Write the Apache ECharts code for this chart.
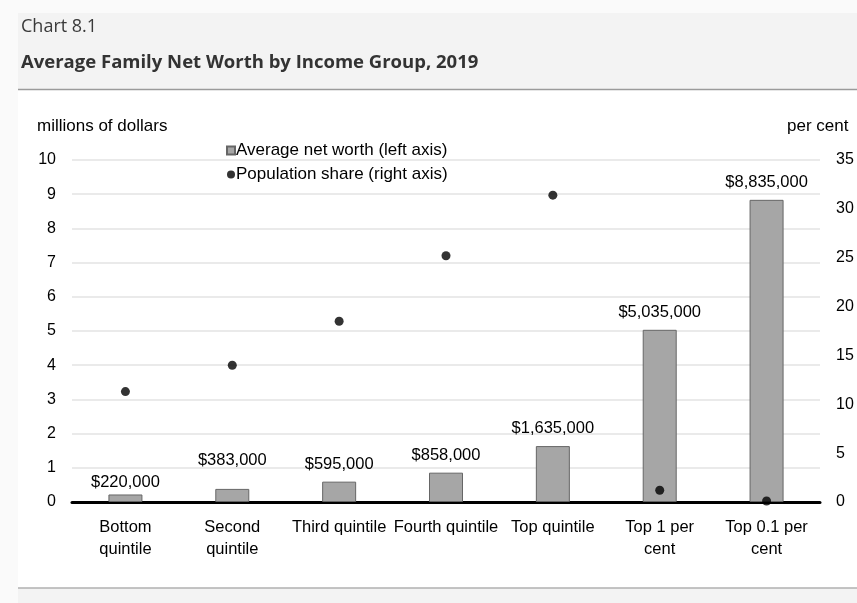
<!DOCTYPE html>
<html>
<head>
<meta charset="utf-8">
<script src="https://cdn.jsdelivr.net/npm/echarts@6/dist/echarts.min.js"></script>
<style>
  html, body { margin: 0; padding: 0; background: #fafafa; }
  #chart { width: 857px; height: 603px; }
</style>
</head>
<body>
<div id="chart"></div>
<script>
// categories and values
var categories = ['Bottom\nquintile', 'Second\nquintile', 'Third quintile', 'Fourth quintile', 'Top quintile', 'Top 1 per\ncent', 'Top 0.1 per\ncent']
var netWorth = [0.220, 0.383, 0.595, 0.858, 1.635, 5.035, 8.835]   // millions of dollars
var popShare = [11.3, 14.0, 18.5, 25.2, 31.4, 1.2, 0.1]           // per cent
// label nudges, the source chart places a couple of them by hand
var labelShift = [5, -11, 0, 0, 0, 0, 0]

var font = '"Liberation Sans", Arial, sans-serif'
var headFont = '"Open Sans", "Noto Sans", sans-serif'

var myChart = echarts.init(document.getElementById('chart'))

var option = {
  animation: false,
  backgroundColor: '#fafafa',
  textStyle: { fontFamily: font },
  graphic: [
    { type: 'rect', z: -10, shape: { x: 18, y: 13, width: 839, height: 77 }, style: { fill: '#f3f3f3' } },
    { type: 'rect', z: -10, shape: { x: 18, y: 90, width: 839, height: 498 }, style: { fill: '#ffffff' } },
    { type: 'rect', z: -10, shape: { x: 18, y: 588, width: 839, height: 15 }, style: { fill: '#f3f3f3' } },
    { type: 'line', z: -9, shape: { x1: 18, y1: 89.5, x2: 857, y2: 89.5 }, style: { stroke: '#9a9a9a', lineWidth: 1.5 } },
    { type: 'line', z: -9, shape: { x1: 18, y1: 588, x2: 857, y2: 588 }, style: { stroke: '#b0b0b0', lineWidth: 1.5 } }
  ],
  title: [
    {
      text: 'Chart 8.1',
      left: 16, top: 13,
      textStyle: { fontFamily: headFont, fontWeight: 'normal', fontSize: 18, color: '#3a3a3a' }
    },
    {
      text: 'Average Family Net Worth by Income Group, 2019',
      left: 16, top: 48,
      textStyle: { fontFamily: headFont, fontWeight: 'bold', fontSize: 18.5, color: '#333333' }
    }
  ],
  legend: {
    orient: 'vertical',
    left: 221, top: 137,
    itemWidth: 8, itemHeight: 8, itemGap: 7,
    textStyle: { fontFamily: font, fontSize: 17, color: '#000', padding: [0, 0, 0, -4] },
    data: [
      { name: 'Average net worth (left axis)', icon: 'rect' },
      { name: 'Population share (right axis)', icon: 'circle' }
    ]
  },
  grid: { left: 72, right: 37, top: 160, bottom: 101 },
  xAxis: {
    type: 'category',
    data: categories,
    axisLine: { lineStyle: { color: '#000', width: 3 } },
    axisTick: { show: false },
    axisLabel: { interval: 0, fontSize: 16.5, lineHeight: 22, color: '#000', margin: 14 }
  },
  yAxis: [
    {
      type: 'value', min: 0, max: 10, interval: 1,
      name: 'millions of dollars',
      nameLocation: 'end', nameGap: 25,
      nameTextStyle: { fontSize: 17, color: '#000', align: 'left', padding: [0, 0, 0, -35] },
      axisLine: { show: false }, axisTick: { show: false },
      axisLabel: { fontSize: 16, color: '#000', margin: 16 },
      splitLine: { lineStyle: { color: '#e3e3e3', width: 1.5 } }
    },
    {
      type: 'value', min: 0, max: 35, interval: 5,
      name: 'per cent',
      nameLocation: 'end', nameGap: 25,
      nameTextStyle: { fontSize: 17, color: '#000', align: 'left', padding: [0, 0, 0, -33] },
      axisLine: { show: false }, axisTick: { show: false },
      axisLabel: { fontSize: 16, color: '#000', margin: 16 },
      splitLine: { show: false }
    }
  ],
  series: [
    {
      name: 'Average net worth (left axis)',
      type: 'bar',
      barWidth: 34,
      itemStyle: { color: '#a6a6a6', borderColor: '#666666', borderWidth: 1 },
      label: {
        show: true, position: 'top', distance: 9,
        fontSize: 16.5, color: '#000',
        formatter: function (p) {
          return '$' + Math.round(p.value * 1000000).toLocaleString('en-US')
        }
      },
      data: netWorth.map(function (v, i) {
        return { value: v, label: { offset: [0, labelShift[i]] } }
      })
    },
    {
      name: 'Population share (right axis)',
      type: 'scatter',
      yAxisIndex: 1,
      symbolSize: 9,
      itemStyle: { color: '#000' },
      z: 5,
      data: popShare
    }
  ]
}

myChart.setOption(option)
</script>
</body>
</html>
